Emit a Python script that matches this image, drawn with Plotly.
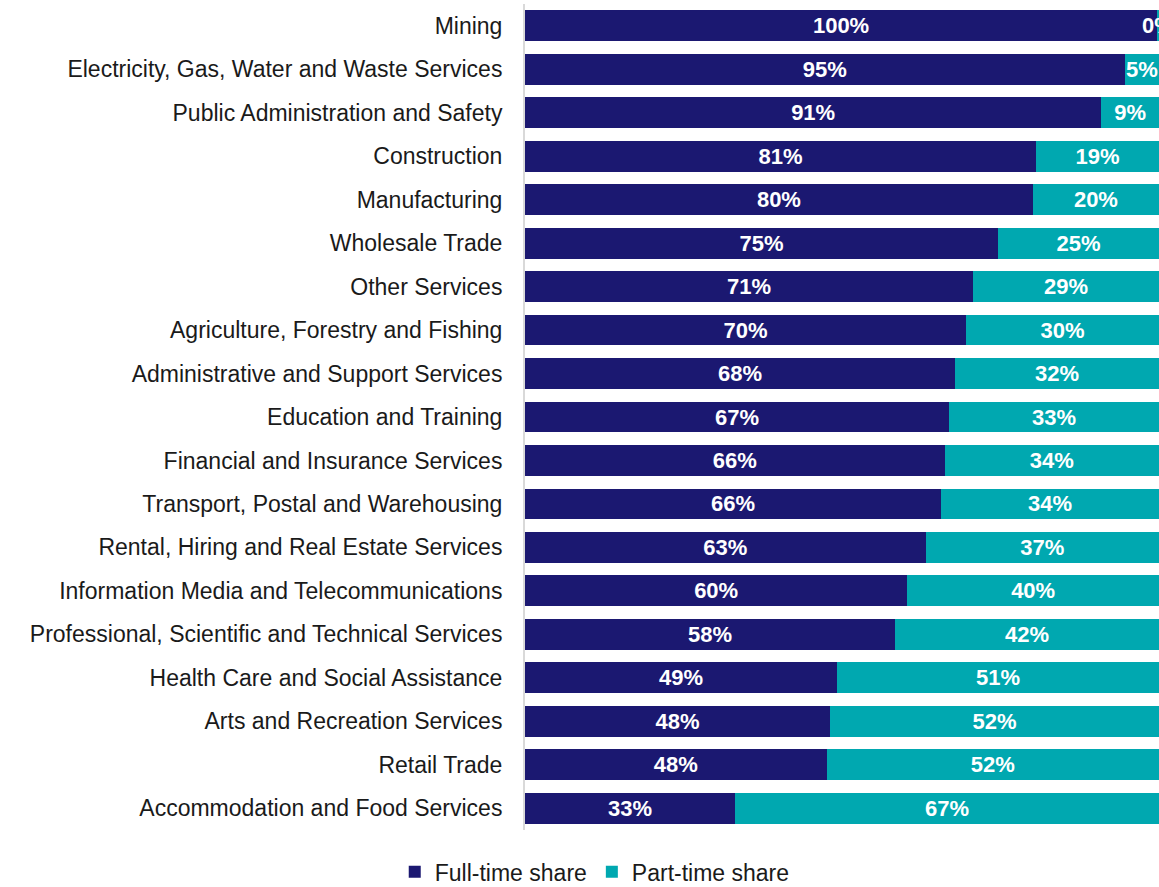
import plotly.graph_objects as go

industries = [
    "Mining",
    "Electricity, Gas, Water and Waste Services",
    "Public Administration and Safety",
    "Construction",
    "Manufacturing",
    "Wholesale Trade",
    "Other Services",
    "Agriculture, Forestry and Fishing",
    "Administrative and Support Services",
    "Education and Training",
    "Financial and Insurance Services",
    "Transport, Postal and Warehousing",
    "Rental, Hiring and Real Estate Services",
    "Information Media and Telecommunications",
    "Professional, Scientific and Technical Services",
    "Health Care and Social Assistance",
    "Arts and Recreation Services",
    "Retail Trade",
    "Accommodation and Food Services",
]

full_time = [0.997, 0.946, 0.909, 0.806, 0.801, 0.746, 0.707, 0.696, 0.678,
             0.669, 0.662, 0.656, 0.632, 0.603, 0.584, 0.492, 0.481, 0.476, 0.331]
part_time = [round(1 - v, 3) for v in full_time]

NAVY = "#1b1871"
TEAL = "#00a8b0"
FONT = "Liberation Sans, Arial, sans-serif"
LABEL_FONT = dict(family=FONT, size=22, color="white", weight="bold")

fig = go.Figure()
fig.add_trace(go.Bar(
    y=industries, x=full_time, orientation="h", name="Full-time share",
    marker=dict(color=NAVY, line=dict(width=0)),
    texttemplate="%{x:.0%}", textposition="inside", insidetextanchor="middle",
    textangle=0, textfont=LABEL_FONT,
))
fig.add_trace(go.Bar(
    y=industries, x=part_time, orientation="h", name="Part-time share",
    marker=dict(color=TEAL, line=dict(width=0)),
    texttemplate="%{x:.0%}", textposition="inside", insidetextanchor="middle",
    textangle=0, textfont=LABEL_FONT,
))

fig.update_layout(
    width=1159, height=887,
    barmode="stack", bargap=0.29,
    uniformtext=dict(minsize=22, mode="show"),
    plot_bgcolor="white", paper_bgcolor="white",
    margin=dict(l=525, r=0, t=4, b=57, autoexpand=False),
    font=dict(family=FONT, size=23, color="#1a1a1a"),
    xaxis=dict(range=[0, 1], visible=False, fixedrange=True),
    yaxis=dict(
        autorange="reversed", showline=True, linecolor="#d9d9d9", linewidth=2,
        showgrid=False, ticks="", ticklabelstandoff=16,
        tickfont=dict(family=FONT, size=23, color="#1a1a1a"),
    ),
    legend=dict(
        orientation="h", x=0.11, xanchor="center",
        yref="container", y=0.017, yanchor="middle",
        font=dict(family=FONT, size=23, color="#1a1a1a"),
        itemwidth=30, traceorder="normal",
    ),
    showlegend=True,
)

fig.write_html("out.html")
